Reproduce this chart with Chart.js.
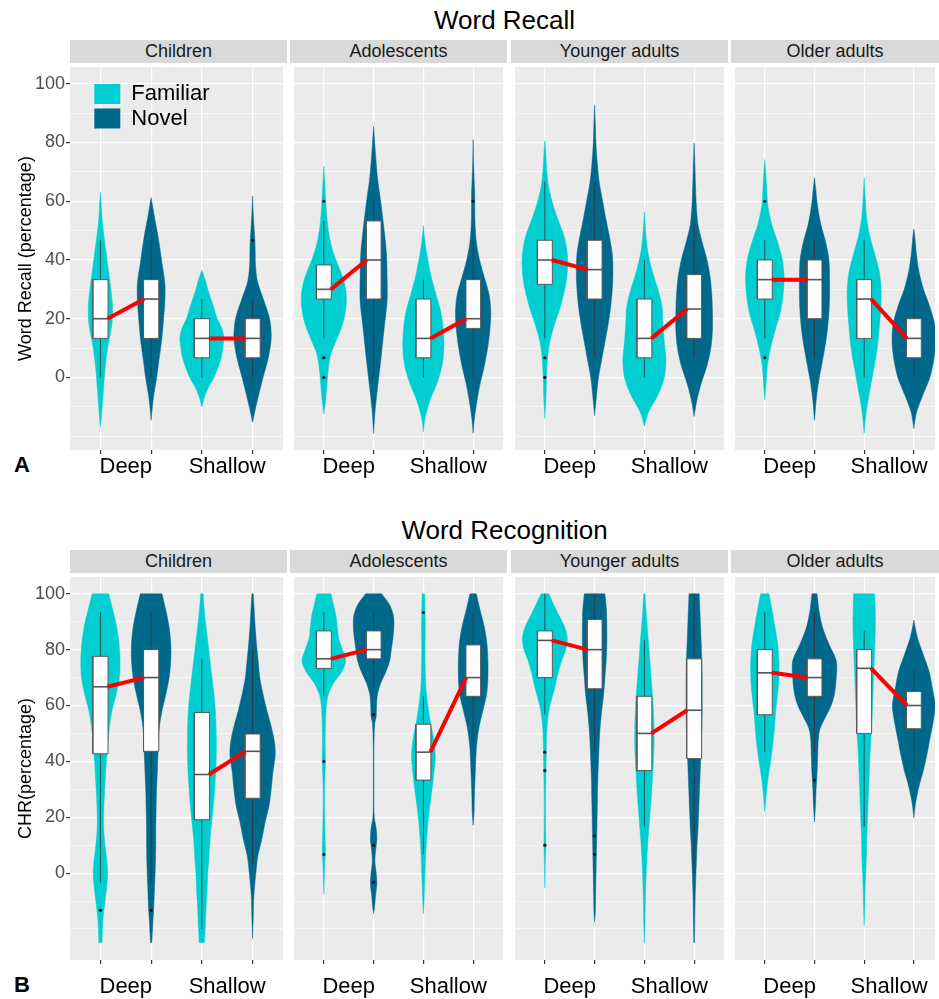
<!DOCTYPE html>
<html>
<head>
<meta charset="utf-8">
<script src="https://cdn.jsdelivr.net/npm/chart.js@4.4.0/dist/chart.umd.min.js"></script>
<style>
  html, body { margin: 0; padding: 0; background: #fff; overflow: hidden; }
  body { width: 939px; height: 999px; position: relative; font-family: 'Liberation Sans', Arial, sans-serif; }
  .title { position: absolute; left: 70px; width: 869px; text-align: center; font-size: 26px; line-height: 30px; color: #000; }
  .strip { position: absolute; background: #D9D9D9; color: #1A1A1A; font-size: 18px; text-align: center; }
  .tag { position: absolute; left: 14px; font-size: 22px; line-height: 24px; font-weight: bold; color: #000; }
  canvas { position: absolute; }
</style>
</head>
<body>
<div class="title" style="top:5px">Word Recall</div>
<div class="title" style="top:515px">Word Recognition</div>
<div class="tag" style="top:453px">A</div>
<div class="tag" style="top:973px">B</div>
<div id="page"></div>
<script>
// ---- data ----
const facets = ['Children', 'Adolescents', 'Younger adults', 'Older adults'];
const conditions = ['Deep', 'Shallow'];
const groups = ['Familiar', 'Novel'];
const groupColors = ['#00CED1', '#00688B'];
const yTickValues = [0, 20, 40, 60, 80, 100];
const yGridValues = [-20, -10, 0, 10, 20, 30, 40, 50, 60, 70, 80, 90, 100];
// order of the 4 violins in a facet: Deep-Familiar, Deep-Novel, Shallow-Familiar, Shallow-Novel
const xPositions = [1, 2, 3, 4];
const conditionCentres = [1.5, 3.5];

// violin outlines: [value, relative half width]
const recallChildren = [
  [[-17,0],[-12,4],[-6,8],[0,12],[6,17],[12,25],[18,35],[24,37],[30,32],[36,25],[42,18],[48,11],[54,5],[60,2],[63,0]],
  [[-14.6,0],[-11,3],[-6,8],[0,17],[6,24],[13.5,33],[20,38],[26,42],[32,42],[39,33],[46,24],[50,18],[54,11],[58,5],[61.2,0]],
  [[-10,0],[-6,10],[-3,22],[0,37],[3,48],[6.7,59],[10,64],[13.5,67],[17,60],[20,47],[24,36],[27,27],[30,18],[32.6,12],[35,5],[36.5,0]],
  [[-15.2,0],[-12,6],[-6.7,17],[0,32],[6.7,48],[13.5,57],[20,52],[27,32],[32.6,15],[38,9],[43,8],[47,7],[52,4],[56,2],[61.8,0]]
];
const recallAdolescents = [
  [[-12.4,0],[-8,5],[-2,10],[3,14],[8,22],[13,40],[18,58],[23,68],[28,70],[33,62],[38,45],[43,28],[48,17],[55,9],[62,5],[68,2],[72,0]],
  [[-19.1,0],[-12,4],[-5.6,10],[5.6,22],[16.9,33],[26,42],[34,42],[42,40],[50,33],[60,22],[67,13],[73,8],[79,4],[85.6,0]],
  [[-18.5,0],[-14,5],[-8,20],[-2,42],[4,58],[10,64],[16,62],[22,55],[28,40],[34,25],[40,14],[46,5],[51.7,0]],
  [[-19,0],[-14,4],[-8,12],[-2,22],[4,35],[10,45],[16,52],[22,55],[28,50],[34,35],[40,20],[46,10],[52,6],[58,5],[62,5],[68,3],[75,1],[81,0]]
];
const recallYounger = [
  [[-14,0],[-8,3],[0,5],[6,8],[12,15],[18,30],[24,48],[30,62],[36,70],[42,70],[48,60],[54,40],[60,22],[66,10],[72,5],[78,2],[80.6,0]],
  [[-13,0],[-6,6],[0,12],[6,22],[12,32],[18,42],[24,50],[30,55],[36,57],[42,55],[48,46],[54,35],[60,25],[66,15],[72,9],[80,4],[87,2],[92.7,0]],
  [[-16.6,0],[-12,12],[-6,42],[0,62],[6,67],[12,62],[18,58],[24,55],[30,42],[36,25],[42,12],[48,5],[53,2],[56.4,0]],
  [[-13.3,0],[-8,8],[-2,22],[4,40],[10,52],[16,57],[22,57],[28,55],[34,50],[40,40],[46,25],[52,12],[58,7],[66,4],[74,2],[79.8,0]]
];
const recallOlder = [
  [[-7.6,0],[-2,4],[4,8],[10,18],[16,32],[22,48],[28,57],[34,60],[40,55],[46,40],[52,22],[58,10],[64,6],[70,3],[74.2,0]],
  [[-14.6,0],[-8,5],[-2,12],[4,22],[10,32],[16,40],[22,45],[28,47],[34,47],[40,45],[46,35],[52,20],[58,10],[64,4],[68,0]],
  [[-19,0],[-12,6],[-6,15],[0,25],[6,35],[12,43],[18,48],[24,52],[30,53],[36,47],[42,33],[48,18],[54,8],[60,4],[68,0]],
  [[-17.4,0],[-12,8],[-6,28],[0,50],[6,62],[12,68],[18,65],[24,50],[30,30],[36,16],[42,8],[48,3],[50.6,0]]
];
const recallQ1 = [[13.3,13.3,6.7,6.7],[26.7,26.7,6.7,16.7],[31.7,26.7,6.7,13.3],[26.7,20,13.3,6.7]];
const recallMedian = [[20,26.7,13.3,13.3],[30,40,13.3,20],[40,36.7,13.3,23.3],[33.3,33.3,26.7,13.3]];
const recallQ3 = [[33.3,33.3,20,20],[38.3,53.3,26.7,33.3],[46.7,46.7,26.7,35],[40,40,33.3,20]];
const recallLow = [[0,0,0,0],[13.3,0,0,0],[13.3,6.7,0,6.7],[13.3,6.7,0,0]];
const recallHigh = [[46.7,46.7,26.7,26.7],[53.3,60,33.3,46.7],[66.7,66.7,40,53.3],[46.7,46.7,46.7,33.3]];
const recallOutliers = [[[],[],[],[46.7]],[[60,6.7,0],[],[],[60]],[[6.7,0],[],[],[]],[[60,6.7],[],[],[]]];

const recogChildren = [
  [[-24.9,5],[-20,6],[-16,8],[-10,14],[-4,20],[0,22],[4,20],[10,14],[16,10],[22,10],[28,12],[34,15],[40,18],[46,22],[52,27],[58,35],[64,48],[70,58],[76,60],[82,57],[88,50],[94,38],[100,25]],
  [[-24.9,2],[-18,5],[-12,8],[-6,10],[0,12],[4,13],[10,14],[16,14],[22,15],[28,16],[34,18],[40,20],[46,22],[52,25],[58,33],[64,45],[70,55],[76,60],[82,60],[88,55],[94,45],[100,33]],
  [[-24.9,8],[-18,11],[-12,13],[-6,16],[0,18],[6,22],[12,25],[18,30],[24,35],[30,39],[36,42],[42,44],[48,44],[54,43],[60,40],[66,35],[72,29],[78,23],[84,17],[90,11],[96,6],[100,4]],
  [[-23.4,0],[-16,2],[-8,4],[0,10],[6,16],[12,28],[18,38],[24,50],[30,57],[36,62],[42,69],[46,68],[52,58],[58,44],[64,32],[70,22],[76,17],[82,12],[88,8],[94,5],[100,2]]
];
const recogAdolescents = [
  [[-7.4,0],[-4,1],[0,2],[4,3],[8,5],[12,4],[18,3],[26,2],[34,3],[40,5],[46,4],[54,5],[60,8],[64,14],[68,30],[72,55],[76,68],[80,58],[84,46],[88,42],[92,38],[96,30],[100,22]],
  [[-14.5,0],[-12,3],[-8,6],[-4,10],[0,8],[4,4],[8,6],[12,10],[16,8],[20,2],[28,1],[36,1],[44,1],[50,2],[54,4],[56,8],[60,9],[64,12],[68,22],[72,38],[76,50],[80,55],[84,60],[88,63],[92,62],[96,50],[100,25]],
  [[-14.5,0],[-10,2],[-6,3],[0,5],[6,7],[12,10],[18,14],[24,20],[30,27],[36,33],[42,37],[48,32],[54,22],[60,14],[66,8],[72,6],[80,5],[88,6],[94,5],[100,4]],
  [[17.1,0],[22,3],[28,4],[34,6],[40,8],[46,11],[52,18],[58,30],[64,42],[70,46],[76,46],[82,43],[88,35],[94,22],[100,10]]
];
const recogYounger = [
  [[-5.3,0],[0,1],[6,2],[10,3],[18,2],[26,2],[34,3],[40,4],[48,5],[54,8],[60,16],[66,30],[72,42],[76,52],[80,65],[84,70],[88,62],[92,45],[96,28],[100,12]],
  [[-17.6,0],[-14,2],[-8,3],[-2,4],[4,5],[10,6],[16,7],[22,8],[28,9],[34,10],[40,12],[46,14],[52,17],[58,22],[64,28],[70,32],[76,36],[82,38],[88,38],[94,37],[100,32]],
  [[-24.9,0],[-18,2],[-10,3],[-2,5],[4,7],[10,10],[16,14],[22,18],[28,22],[34,25],[40,28],[46,30],[52,30],[58,28],[64,25],[70,21],[76,17],[82,13],[88,9],[94,5],[100,2]],
  [[-24.9,1],[-18,2],[-10,3],[-2,5],[4,7],[10,9],[16,12],[22,14],[28,16],[34,18],[40,20],[46,22],[52,24],[58,25],[64,25],[70,25],[76,24],[82,22],[88,20],[94,18],[100,16]]
];
const recogOlder = [
  [[22,0],[26,3],[30,6],[34,10],[40,18],[46,25],[52,30],[58,34],[64,40],[70,44],[76,44],[82,40],[88,32],[94,23],[100,13]],
  [[18.3,0],[24,3],[30,5],[36,8],[42,10],[48,12],[52,18],[56,35],[60,52],[64,62],[70,68],[76,68],[82,45],[88,25],[94,14],[100,8]],
  [[-18.7,0],[-12,2],[-6,3],[0,5],[6,7],[12,8],[18,10],[24,12],[30,14],[36,16],[42,18],[48,21],[54,24],[60,26],[66,28],[72,30],[78,32],[84,34],[90,35],[96,34],[100,33]],
  [[19.7,0],[24,4],[28,10],[32,18],[36,28],[42,40],[48,50],[54,60],[60,67],[66,58],[72,48],[78,30],[84,12],[88,4],[90.6,0]]
];
const recogQ1 = [[42.7,43.6,19.1,26.8],[73.3,76.7,33.3,63.3],[70,66,36.7,41],[56.7,63.3,50,51.7]];
const recogMedian = [[66.7,70,35.3,43.6],[76.7,80,43.3,70],[83.3,80,50,58.3],[71.7,70,73.3,60]];
const recogQ3 = [[77.6,80,57.5,49.8],[86.7,86.7,53.3,81.7],[86.7,90.8,63.3,76.7],[80,76.7,80,65]];
const recogLow = [[-3.3,-3.3,-20,3.3],[63.3,66.7,6.7,46.7],[56.7,43.3,16.7,0],[43.3,43.3,16.7,36.7]];
const recogHigh = [[93.3,93.3,76.7,80],[93.3,93.3,63.3,93.3],[100,100,83.3,100],[93.3,93.3,86.7,73.3]];
const recogOutliers = [[[-13.3],[-13.3],[],[]],[[40,6.7],[56.7,10,-3.3],[93.3],[]],[[43.3,36.7,10],[13.3,6.7],[],[]],[[],[33.3],[],[]]];

// ---- layout ----
const WIDTH_SCALE = 1 / 155;   // relative width -> x units
const BOX_HALF = 0.15;
const LINK_OFFSET = 0.14;
const facetLeft = [70, 290, 511, 731];
const facetWidth = [217, 217, 217, 208];
const UNIT_PX = 217 / 4.2;
const AXIS_H = 40;

const panels = [
  { violins: [recallChildren, recallAdolescents, recallYounger, recallOlder],
    q1: recallQ1, median: recallMedian, q3: recallQ3, low: recallLow, high: recallHigh, outliers: recallOutliers,
    yTitle: 'Word Recall (percentage)', stripTop: 40, plotTop: 63, plotH: 387, yMin: -24.7, yMax: 105.7, labelPad: 0, legend: true },
  { violins: [recogChildren, recogAdolescents, recogYounger, recogOlder],
    q1: recogQ1, median: recogMedian, q3: recogQ3, low: recogLow, high: recogHigh, outliers: recogOutliers,
    yTitle: 'CHR(percentage)', stripTop: 550, plotTop: 573, plotH: 387, yMin: -31.1, yMax: 106, labelPad: 10, legend: false }
];

Chart.defaults.font.family = "'Liberation Sans', Arial, sans-serif";

const panelBackground = {
  id: 'panelBackground',
  beforeDraw(chart) {
    const { ctx, chartArea: a } = chart;
    ctx.save();
    ctx.fillStyle = '#EBEBEB';
    ctx.fillRect(a.left, a.top, a.width, a.height);
    ctx.restore();
  }
};

// put the legend in the top-left corner of the panel, like ggplot's inside legend
const legendNudge = {
  id: 'legendNudge',
  afterLayout(chart) {
    if (!chart.options.plugins.legend.display) return;
    const lg = chart.legend;
    const w = lg.width, h = lg.height;
    lg.left = 91.8; lg.top = 17.5;
    lg.right = lg.left + w; lg.bottom = lg.top + h;
  }
};

function violinShape(profile, x) {
  // the end points are doubled so the smoothed outline keeps sharp tips and flat cut-offs
  const ends = [profile[0]].concat(profile, [profile[profile.length - 1]]);
  const left = ends.map(p => ({ x: x - p[1] * WIDTH_SCALE, y: p[0] }));
  const right = ends.slice().reverse().map(p => ({ x: x + p[1] * WIDTH_SCALE, y: p[0] }));
  return left.concat(right);
}

function boxShape(x, q1, q3) {
  return [
    { x: x - BOX_HALF, y: q1 }, { x: x + BOX_HALF, y: q1 },
    { x: x + BOX_HALF, y: q3 }, { x: x - BOX_HALF, y: q3 },
    { x: x - BOX_HALF, y: q1 }
  ];
}

function buildDatasets(panel, f) {
  const sets = [];
  xPositions.forEach((x, i) => {
    const color = groupColors[i % 2];
    const med = panel.median[f][i];
    sets.push({ type: 'line', data: violinShape(panel.violins[f][i], x), backgroundColor: color, borderColor: color,
      borderWidth: 0.5, pointRadius: 0, fill: 'shape', tension: 0.3, order: 5 });
    sets.push({ type: 'line', data: [{ x, y: panel.low[f][i] }, { x, y: panel.high[f][i] }],
      borderColor: '#333', borderWidth: 0.8, pointRadius: 0, fill: false, order: 4 });
    sets.push({ type: 'line', data: boxShape(x, panel.q1[f][i], panel.q3[f][i]), backgroundColor: '#fff',
      borderColor: '#595959', borderWidth: 1, pointRadius: 0, fill: 'shape', tension: 0, order: 3 });
    sets.push({ type: 'line', data: [{ x: x - BOX_HALF, y: med }, { x: x + BOX_HALF, y: med }],
      borderColor: '#555', borderWidth: 1.6, pointRadius: 0, fill: false, order: 2 });
    if (panel.outliers[f][i].length) {
      sets.push({ type: 'scatter', data: panel.outliers[f][i].map(y => ({ x, y })), pointRadius: 1.6,
        backgroundColor: '#111', borderWidth: 0, showLine: false, order: 1 });
    }
  });
  // red line joining the medians of familiar and novel words in each condition
  conditions.forEach((c, k) => {
    const a = 2 * k, b = 2 * k + 1;
    sets.push({ type: 'line', data: [
        { x: xPositions[a] + LINK_OFFSET, y: panel.median[f][a] },
        { x: xPositions[b] - LINK_OFFSET, y: panel.median[f][b] }
      ], borderColor: '#FF0000', borderWidth: 4, pointRadius: 0, fill: false, order: 0 });
  });
  return sets;
}

function makeFacet(panel, f) {
  const first = f === 0;
  const yAxisW = first ? 70 : 0;
  const canvas = document.createElement('canvas');
  canvas.width = facetWidth[f] + yAxisW;
  canvas.height = panel.plotH + AXIS_H;
  canvas.style.left = (facetLeft[f] - yAxisW) + 'px';
  canvas.style.top = panel.plotTop + 'px';
  document.getElementById('page').appendChild(canvas);

  const strip = document.createElement('div');
  strip.className = 'strip';
  strip.textContent = facets[f];
  Object.assign(strip.style, { left: facetLeft[f] + 'px', top: panel.stripTop + 'px', width: facetWidth[f] + 'px',
    height: (panel.plotTop - panel.stripTop) + 'px', lineHeight: (panel.plotTop - panel.stripTop) + 'px' });
  document.getElementById('page').appendChild(strip);

  const isInt = v => Math.abs(v - Math.round(v)) < 1e-6;
  const noOverflow = axis => { axis.paddingTop = 0; axis.paddingBottom = 0; axis.paddingLeft = 0; axis.paddingRight = 0; };

  new Chart(canvas, {
    type: 'line',
    data: { datasets: buildDatasets(panel, f) },
    options: {
      responsive: false,
      animation: false,
      events: [],
      layout: { padding: 0 },
      plugins: {
        tooltip: { enabled: false },
        legend: {
          display: first && panel.legend,
          position: 'chartArea',
          align: 'start',
          onClick: null,
          labels: {
            boxWidth: 26, boxHeight: 20, padding: 2.5, color: '#000', font: { size: 22 },
            generateLabels: () => groups.map((g, i) => ({ text: g, fillStyle: groupColors[i], strokeStyle: groupColors[i], lineWidth: 0, hidden: false }))
          }
        }
      },
      scales: {
        x: {
          type: 'linear',
          min: 0.4,
          max: 0.4 + facetWidth[f] / UNIT_PX,
          afterBuildTicks: axis => { axis.ticks = xPositions.concat(conditionCentres).sort((a, b) => a - b).map(v => ({ value: v })); },
          afterFit: axis => { axis.height = AXIS_H; noOverflow(axis); },
          border: { display: false },
          grid: {
            color: ctx => isInt(ctx.tick.value) ? '#FFFFFF' : 'rgba(0,0,0,0)',
            lineWidth: 1.2,
            tickLength: 4,
            tickColor: ctx => isInt(ctx.tick.value) ? '#333333' : 'rgba(0,0,0,0)'
          },
          ticks: {
            autoSkip: false, maxRotation: 0, minRotation: 0, padding: panel.labelPad,
            color: '#000', font: { size: 22 },
            callback: v => { const k = conditionCentres.indexOf(v); return k >= 0 ? conditions[k] : ''; }
          }
        },
        y: {
          type: 'linear',
          min: panel.yMin,
          max: panel.yMax,
          afterBuildTicks: axis => { axis.ticks = yGridValues.map(v => ({ value: v })); },
          afterFit: axis => { axis.width = yAxisW; noOverflow(axis); },
          border: { display: false },
          grid: {
            color: '#FFFFFF',
            lineWidth: ctx => yTickValues.includes(ctx.tick.value) ? 1.2 : 0.6,
            drawTicks: first,
            tickLength: 4,
            tickColor: ctx => yTickValues.includes(ctx.tick.value) ? '#333333' : 'rgba(0,0,0,0)'
          },
          ticks: {
            display: first, autoSkip: false, padding: 1, color: '#4D4D4D', font: { size: 18 },
            callback: v => yTickValues.includes(v) ? String(v) : ''
          },
          title: {
            display: first, text: panel.yTitle, color: '#000', font: { size: 18 },
            padding: { top: 15, bottom: 0 }
          }
        }
      }
    },
    plugins: [panelBackground, legendNudge]
  });
}

panels.forEach(panel => facets.forEach((name, f) => makeFacet(panel, f)));
</script>
</body>
</html>
